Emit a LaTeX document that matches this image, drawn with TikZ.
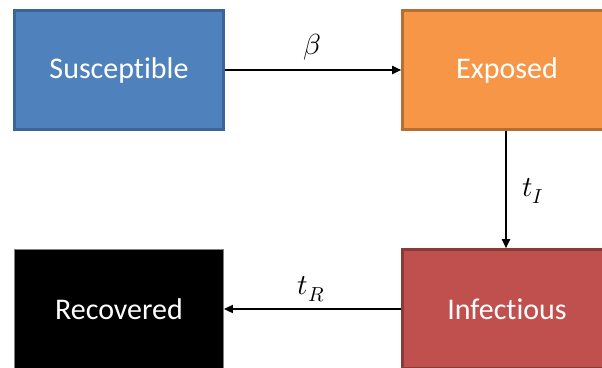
\documentclass[tikz,border=0pt]{standalone}
\usepackage{fontspec}
\usepackage{unicode-math}
\setmainfont{Carlito}[Ligatures=NoCommon]
\usetikzlibrary{arrows.meta}
\definecolor{sfill}{HTML}{4F81BD}
\definecolor{sdraw}{HTML}{3A6596}
\definecolor{efill}{HTML}{F79646}
\definecolor{edraw}{HTML}{B86D32}
\definecolor{ifill}{HTML}{C0504D}
\definecolor{idraw}{HTML}{8C3A38}
\definecolor{rdraw}{HTML}{7F7F7F}
\newcommand{\boxtext}[1]{\raisebox{-2pt}{#1}}
\begin{document}
\begin{tikzpicture}[x=1pt,y=-1pt,
  box/.style={rectangle, minimum width=209pt, minimum height=119pt, line width=2.6pt, inner sep=0pt, text=white, font=\fontsize{30}{36}\selectfont},
  conn/.style={line width=1.8pt, -{Triangle[length=9pt,width=8pt]}},
  lbl/.style={font=\fontsize{29}{35}\selectfont, inner sep=0pt}]
\useasboundingbox (0,0) rectangle (602,367);
\node[box, fill=sfill, draw=sdraw] (S) at (119,70) {\boxtext{Susceptible}};
\node[box, fill=efill, draw=edraw] (E) at (507,70) {\boxtext{Exposed}};
\node[box, fill=ifill, draw=idraw] (I) at (507,309) {\boxtext{Infectious}};
\node[box, fill=black, draw=rdraw, line width=0.8pt] (R) at (119,309) {\boxtext{Recovered}};
\draw[conn] (S.east) -- (E.west);
\draw[conn] ([xshift=-1pt]E.south) -- ([xshift=-1pt]I.north);
\draw[conn] (I.west) -- (R.east);
\node[lbl] (b) at (312,47) {$\beta$};
\node[lbl] (ti) at (533,191) {$t_I$};
\node[lbl] (tr) at (311,289) {$t_R$};
\end{tikzpicture}
\end{document}
